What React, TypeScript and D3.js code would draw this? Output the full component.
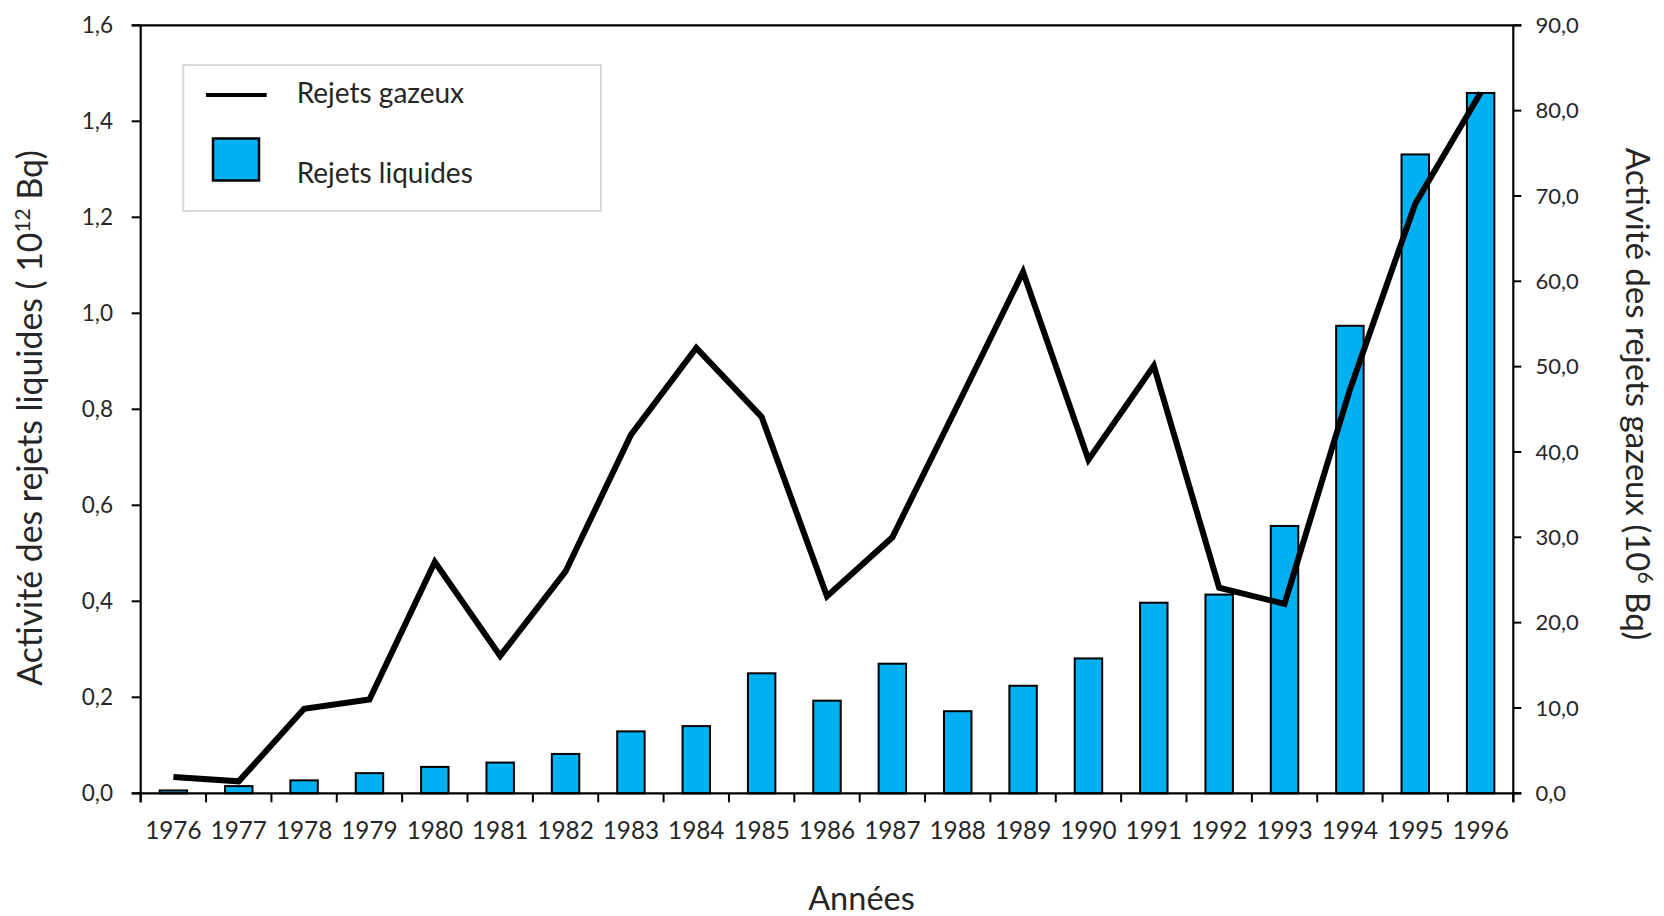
import React from "react";
import * as d3 from "d3";

const years = ["1976","1977","1978","1979","1980","1981","1982","1983","1984","1985","1986","1987","1988","1989","1990","1991","1992","1993","1994","1995","1996"];
const liquides = [0.006,0.015,0.027,0.042,0.055,0.064,0.082,0.129,0.140,0.250,0.193,0.270,0.171,0.224,0.281,0.397,0.414,0.557,0.974,1.331,1.459];
const gazeux = [1.9,1.4,9.9,11.0,27.1,16.1,26.0,42.0,52.2,44.1,23.1,30.0,45.5,61.1,39.1,50.1,24.1,22.2,47.3,69.1,82.1];
const leftTicks = [0,0.2,0.4,0.6,0.8,1.0,1.2,1.4,1.6];
const rightTicks = [0,10,20,30,40,50,60,70,80,90];
const legendLabels = ["Rejets gazeux","Rejets liquides"];

const W = 1664, H = 916;
const X0 = 140.7, X1 = 1513.3, Y0 = 793.3, Y1 = 25.3;
const FONT = "Lato, 'Open Sans', sans-serif";
const TXT = "#262626";
const BLUE = "#00B0F0";

export default function App() {
  const x = d3.scaleBand<string>().domain(years).range([X0, X1]).paddingInner(0.58).paddingOuter(0.29);
  const yL = d3.scaleLinear().domain([0, 1.6]).range([Y0, Y1]);
  const yR = d3.scaleLinear().domain([0, 90]).range([Y0, Y1]);
  const step = x.step();
  const fmtL = (v: number) => v.toFixed(1).replace(".", ",");
  const line = d3.line<number>()
    .x((_, i) => (x(years[i]) as number) + x.bandwidth() / 2)
    .y((d) => yR(d));
  const boundaries = d3.range(years.length + 1).map((i) => X0 + i * step);

  return (
    <svg width={W} height={H} style={{ position: "absolute", left: 0, top: 0, background: "#fff" }} fontFamily={FONT}>
      {/* bars */}
      {liquides.map((v, i) => (
        <rect key={years[i]} x={x(years[i])} y={yL(v)} width={x.bandwidth()} height={Y0 - yL(v)}
          fill={BLUE} stroke="#000" strokeWidth={2} />
      ))}
      {/* line */}
      <path d={line(gazeux) || ""} fill="none" stroke="#000" strokeWidth={6} strokeLinejoin="miter" strokeMiterlimit={4} />

      {/* axes */}
      <line x1={X0} x2={X0} y1={Y1} y2={Y0 + 9} stroke="#000" strokeWidth={2.2} />
      <line x1={X1} x2={X1} y1={Y1} y2={Y0 + 9} stroke="#000" strokeWidth={2.2} />
      <line x1={X0 - 9} x2={X1 + 8} y1={Y0} y2={Y0} stroke="#000" strokeWidth={2.2} />
      <line x1={X0 - 9} x2={X1 + 8} y1={Y1} y2={Y1} stroke="#000" strokeWidth={2.2} />
      {boundaries.map((bx, i) => (
        <line key={"b" + i} x1={bx} x2={bx} y1={Y0} y2={Y0 + 9} stroke="#000" strokeWidth={2} />
      ))}
      {leftTicks.map((t) => (
        <g key={"l" + t}>
          <line x1={X0 - 9} x2={X0} y1={yL(t)} y2={yL(t)} stroke="#000" strokeWidth={2} />
          <text x={113} y={yL(t)} dy="0.35em" textAnchor="end" fontSize={22.5} fill={TXT}>{fmtL(t)}</text>
        </g>
      ))}
      {rightTicks.map((t) => (
        <g key={"r" + t}>
          <line x1={X1} x2={X1 + 8} y1={yR(t)} y2={yR(t)} stroke="#000" strokeWidth={2} />
          <text x={1535.5} y={yR(t)} dy="0.35em" textAnchor="start" fontSize={22} fill={TXT}>{fmtL(t)}</text>
        </g>
      ))}
      {years.map((yr) => (
        <text key={"x" + yr} x={(x(yr) as number) + x.bandwidth() / 2} y={839.3} textAnchor="middle" fontSize={24.3} fill={TXT}>{yr}</text>
      ))}

      {/* titles */}
      <text x={861.5} y={910} textAnchor="middle" fontSize={32.5} fill={TXT}>Années</text>
      <text transform="translate(42,418) rotate(-90)" textAnchor="middle" fontSize={33.8} fill={TXT}>
        <tspan>Activité des rejets liquides ( 10</tspan>
        <tspan dy={-12} fontSize={21}>12</tspan>
        <tspan dy={12}> Bq)</tspan>
      </text>
      <text transform="translate(1626,394) rotate(90)" textAnchor="middle" fontSize={33} fill={TXT}>
        <tspan>Activité des rejets gazeux (10</tspan>
        <tspan dy={-12} fontSize={21}>6</tspan>
        <tspan dy={12}> Bq)</tspan>
      </text>

      {/* legend */}
      <rect x={183.3} y={65} width={417.7} height={146} fill="#fff" stroke="#d9d9d9" strokeWidth={2} />
      <line x1={206} x2={266.7} y1={95} y2={95} stroke="#000" strokeWidth={4} />
      <text x={296.7} y={102.7} fontSize={28} fill={TXT}>{legendLabels[0]}</text>
      <rect x={213} y={138.5} width={46} height={42} fill={BLUE} stroke="#000" strokeWidth={2.5} />
      <text x={296.7} y={182.7} fontSize={28} fill={TXT}>{legendLabels[1]}</text>
    </svg>
  );
}
